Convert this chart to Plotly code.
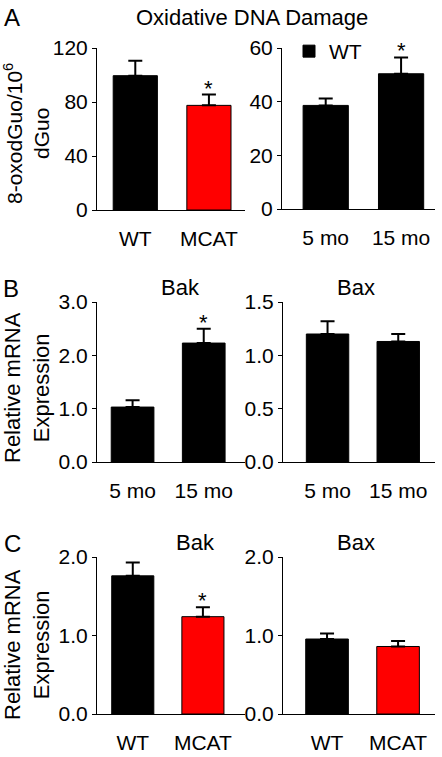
import plotly.graph_objects as go

# ---------------- data ----------------
a_left_categories = ["WT", "MCAT"]
a_left_values = [99.5, 77.5]
a_left_se = [11.0, 8.0]
a_left_sig = [False, True]

a_right_categories = ["5 mo", "15 mo"]
a_right_values = [38.6, 50.4]
a_right_se = [2.6, 6.1]
a_right_sig = [False, True]

b_bak_categories = ["5 mo", "15 mo"]
b_bak_values = [1.03, 2.23]
b_bak_se = [0.13, 0.27]
b_bak_sig = [False, True]

b_bax_categories = ["5 mo", "15 mo"]
b_bax_values = [1.20, 1.13]
b_bax_se = [0.12, 0.07]
b_bax_sig = [False, False]

c_bak_categories = ["WT", "MCAT"]
c_bak_values = [1.76, 1.24]
c_bak_se = [0.17, 0.12]
c_bak_sig = [False, True]

c_bax_categories = ["WT", "MCAT"]
c_bax_values = [0.955, 0.86]
c_bax_se = [0.07, 0.07]
c_bax_sig = [False, False]

a_left_ticks = [0, 40, 80, 120]
a_right_ticks = [0, 20, 40, 60]
b_bak_ticks = [0.0, 1.0, 2.0, 3.0]
b_bax_ticks = [0.0, 0.5, 1.0, 1.5]
c_ticks = [0.0, 1.0, 2.0]

# ---------------- style ----------------
W, H = 442, 757
TITLE_FONT = "Liberation Sans, Arial, sans-serif"
TICK_FONT = "Liberation Sans, Arial, sans-serif"
BAR_COLORS = {"WT": "#000000", "MCAT": "#ff0000", "5 mo": "#000000", "15 mo": "#000000"}


def px_x(p):
    return p / W


def px_y(p):
    return 1 - p / H


panels = [
    # (cats, vals, se, sig, ticks, fmt, xdom_px, ydom_px, xrange)
    (a_left_categories, a_left_values, a_left_se, a_left_sig, a_left_ticks, "d",
     (97, 245), (48, 210), [-0.52, 1.49]),
    (a_right_categories, a_right_values, a_right_se, a_right_sig, a_right_ticks, "d",
     (282, 435), (48, 209), [-0.58, 1.45]),
    (b_bak_categories, b_bak_values, b_bak_se, b_bak_sig, b_bak_ticks, ".1f",
     (97, 245), (302, 462), [-0.50, 1.58]),
    (b_bax_categories, b_bax_values, b_bax_se, b_bax_sig, b_bax_ticks, ".1f",
     (283, 435), (302, 462), [-0.63, 1.52]),
    (c_bak_categories, c_bak_values, c_bak_se, c_bak_sig, c_ticks, ".1f",
     (97, 245), (557, 714), [-0.51, 1.60]),
    (c_bax_categories, c_bax_values, c_bax_se, c_bax_sig, c_ticks, ".1f",
     (283, 435), (557, 714), [-0.62, 1.52]),
]

fig = go.Figure()
annotations = []
layout_axes = {}

for i, (cats, vals, se, sig, ticks, fmt, xd, yd, xr) in enumerate(panels):
    n = i + 1
    xa = "x" if n == 1 else f"x{n}"
    ya = "y" if n == 1 else f"y{n}"
    fig.add_trace(go.Bar(
        x=cats, y=vals,
        xaxis=xa, yaxis=ya,
        width=0.6,
        marker=dict(color=[BAR_COLORS[c] for c in cats],
                    line=dict(color="#000000", width=1)),
        error_y=dict(type="data", array=se, arrayminus=[0] * len(se),
                     symmetric=False, color="#000000", thickness=2, width=7),
        name="WT",
        showlegend=(n == 2),
    ))
    if fmt == "d":
        ticktext = [str(t) for t in ticks]
    else:
        ticktext = [f"{t:.1f}" for t in ticks]
    layout_axes[f"xaxis{'' if n == 1 else n}"] = dict(
        domain=[px_x(xd[0]), px_x(xd[1])],
        anchor=ya, range=xr, type="category", automargin=False,
        showline=True, linecolor="#000000", linewidth=1,
        ticks="", showgrid=False, zeroline=False,
        ticklabelstandoff=10,
        tickfont=dict(family=TICK_FONT, size=21, color="#000000"),
    )
    layout_axes[f"yaxis{'' if n == 1 else n}"] = dict(
        domain=[px_y(yd[1]), px_y(yd[0])],
        anchor=xa, range=[ticks[0], ticks[-1]], automargin=False,
        tickvals=ticks, ticktext=ticktext,
        showline=True, linecolor="#000000", linewidth=1,
        ticks="outside", ticklen=4, tickwidth=1, tickcolor="#000000",
        showgrid=False, zeroline=False,
        tickfont=dict(family=TICK_FONT, size=21, color="#000000"),
    )
    for c, v, s, g in zip(cats, vals, se, sig):
        if g:
            annotations.append(dict(
                x=c, y=v + s, xref=xa, yref=ya, text="*", showarrow=False,
                yanchor="bottom", yshift=-8,
                font=dict(family=TITLE_FONT, size=22, color="#000000"),
            ))

# titles and labels (paper coords from pixel positions)
texts = [
    ("Oxidative DNA Damage", 252, 17, 22, 0),
    ("Bak", 180, 287, 22, 0),
    ("Bax", 356, 287, 22, 0),
    ("Bak", 195, 542, 22, 0),
    ("Bax", 356, 542, 22, 0),
    ("A", 12, 18, 24, 0),
    ("B", 11, 289, 24, 0),
    ("C", 12, 543, 24, 0),
    ("8-oxodGuo/10<sup>6</sup><br>dGuo", 27, 134, 21, -90),
    ("Relative mRNA<br>Expression", 27, 388, 22, -90),
    ("Relative mRNA<br>Expression", 27, 645, 22, -90),
]
for t, x, y, s, ang in texts:
    annotations.append(dict(
        text=t, x=px_x(x), y=px_y(y), xref="paper", yref="paper",
        xanchor="center", yanchor="middle", showarrow=False, textangle=ang,
        font=dict(family=TITLE_FONT, size=s, color="#000000"),
    ))

fig.update_layout(
    template="none",
    width=W, height=H,
    margin=dict(l=0, r=0, t=0, b=0, autoexpand=False),
    paper_bgcolor="#ffffff", plot_bgcolor="#ffffff",
    showlegend=True,
    legend=dict(x=px_x(289), y=px_y(31), xanchor="left", yanchor="top",
                bgcolor="rgba(0,0,0,0)", borderwidth=0,
                font=dict(family=TICK_FONT, size=21, color="#000000"),
                itemwidth=30),
    annotations=annotations,
    **layout_axes,
)

fig.write_html(
    "out.html",
    config={"displayModeBar": False},
    post_script="document.body.style.margin='0';document.body.style.overflow='hidden';",
)
